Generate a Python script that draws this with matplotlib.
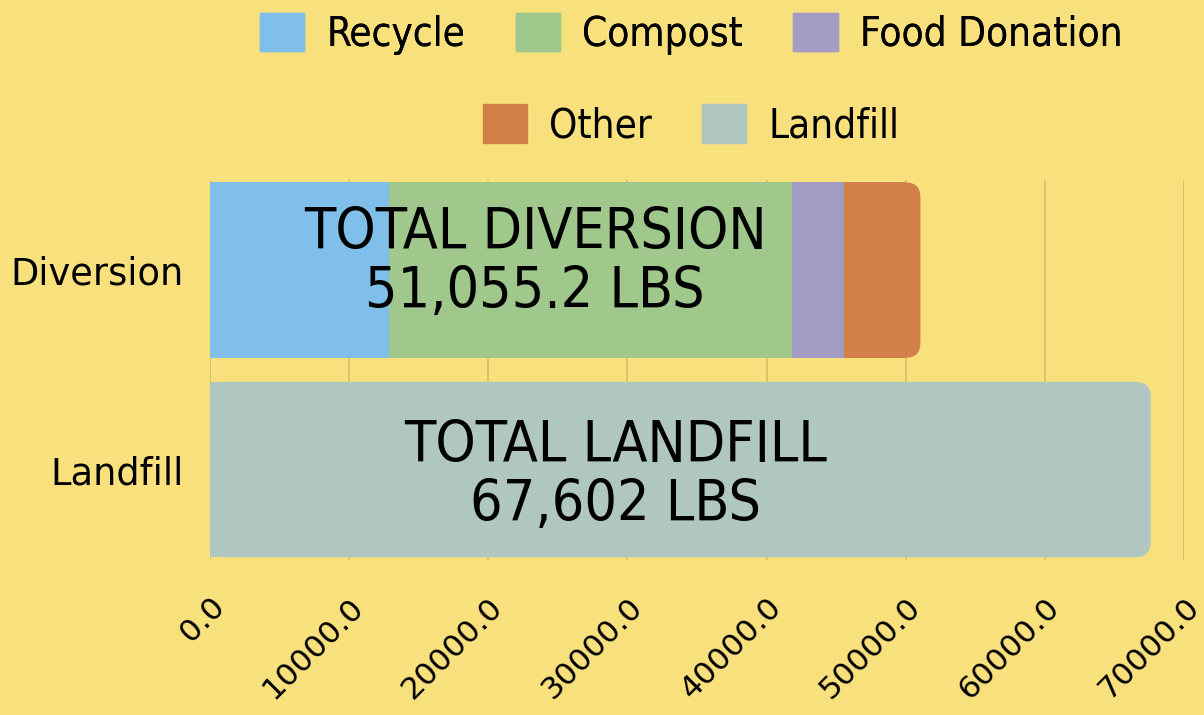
import matplotlib
matplotlib.use("Agg")
import matplotlib.pyplot as plt
from matplotlib.patches import Patch, FancyBboxPatch
import numpy as np

BG = "#F8E07D"
GRID = "#D6BE68"

categories = ["Landfill", "Diversion"]
segments = ["Recycle", "Compost", "Food Donation", "Other"]
diversion_vals = [12870, 28930, 3800, 5455.2]
landfill_val = 67602
colors = {"Recycle": "#7FBFEA", "Compost": "#A0C78C", "Food Donation": "#A39DC6",
          "Other": "#D08048", "Landfill": "#AFC7C0"}
xticks = [0, 10000, 20000, 30000, 40000, 50000, 60000, 70000]

plt.rcParams["font.family"] = ["DejaVu Sans"]

fig = plt.figure(figsize=(12.04, 7.15), dpi=100, facecolor=BG)
ax = fig.add_axes([0.1744, 0.2168, 0.809, 0.5312], facecolor=BG)
ax.set_xlim(0, 70000)
ax.set_ylim(-0.4536, 1.451)

h = 0.88
R = 1100            # corner radius in x data units
ASP = 0.075 / R     # y/x data ratio for the same pixel radius


def round_end(rect):
    x, y, w, hh = rect.get_x(), rect.get_y(), rect.get_width(), rect.get_height()
    ax.add_patch(FancyBboxPatch((x, y), w, hh, boxstyle=f"round,pad=0,rounding_size={R}",
                                mutation_aspect=ASP, fc=rect.get_facecolor(), ec="none", zorder=2))
    rect.set_width(w - R)


left = 0
bars = None
for name, v in zip(segments, diversion_vals):
    bars = ax.barh(1, v, left=left, height=h, color=colors[name], zorder=2)
    left += v
round_end(bars[0])
lb = ax.barh(0, landfill_val, height=h, color=colors["Landfill"], zorder=2)
round_end(lb[0])

ax.set_xticks(xticks)
ax.set_xticklabels([f"{t:.1f}" for t in xticks], rotation=45, ha="right",
                   rotation_mode="anchor", fontsize=22.5)
ax.set_yticks([0, 1])
ax.set_yticklabels(categories, fontsize=26.5)
ax.tick_params(axis="y", length=0, pad=19)
ax.tick_params(axis="x", length=0, pad=23)
for s in ax.spines.values():
    s.set_visible(False)
ax.grid(axis="x", color=GRID, lw=1.2, zorder=0)

tkw = dict(transform=ax.transAxes, ha="center", va="center", fontsize=41,
           fontstretch="condensed", linespacing=1.1, zorder=3)
ax.text(0.334, 0.782, f"TOTAL DIVERSION\n{sum(diversion_vals):,.1f} LBS", **tkw)
ax.text(0.416, 0.221, f"TOTAL LANDFILL\n{landfill_val:,} LBS", **tkw)

row1 = [Patch(color=colors[n], label=n) for n in segments[:3]]
row2 = [Patch(color=colors[n], label=n) for n in ["Other", "Landfill"]]
kw = dict(frameon=False, prop={"size": 29, "stretch": "condensed"}, handlelength=1.1,
          handleheight=1.1, handletextpad=0.55, columnspacing=1.25)
leg1 = fig.legend(handles=row1, ncol=3, loc="center", bbox_to_anchor=(0.574, 0.953), **kw)
fig.add_artist(leg1)
fig.legend(handles=row2, ncol=2, loc="center", bbox_to_anchor=(0.574, 0.825), **kw)

fig.savefig("out.png", dpi=100, facecolor=BG)
